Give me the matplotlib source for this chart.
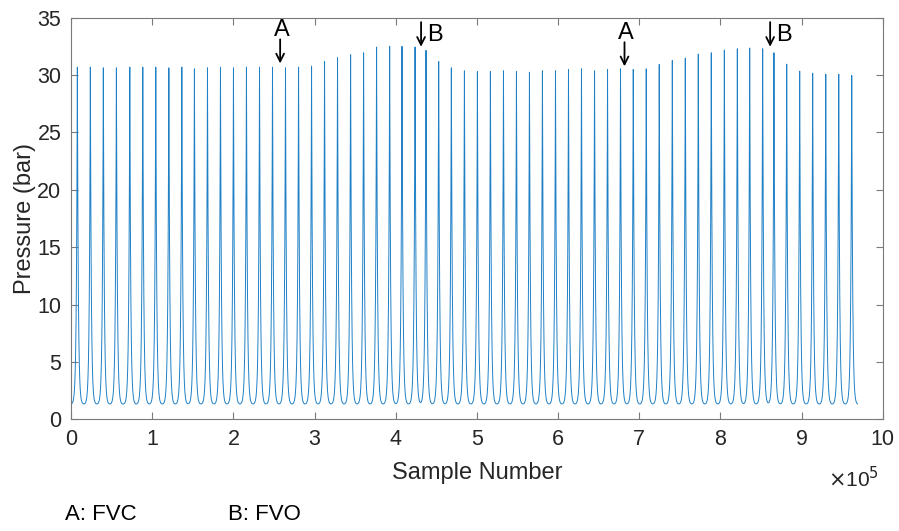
import numpy as np
import matplotlib
matplotlib.use("Agg")
import matplotlib.pyplot as plt
from matplotlib.ticker import FuncFormatter, MultipleLocator

plt.rcParams["font.family"] = ["Liberation Sans", "DejaVu Sans"]

# sample index of each compression peak
peak_samples = [
    7800, 23800, 39800, 55900, 72400, 88400, 104400, 120500, 136500, 152000,
    168100, 184100, 200100, 216100, 232200, 248200, 264200, 280300, 296300, 312300,
    328300, 344400, 360400, 376400, 392500, 407700, 423800, 437300, 452900, 468500,
    484600, 500600, 516600, 532700, 548700, 564700, 580700, 596800, 612800, 628800,
    644900, 660900, 676900, 692600, 708600, 724600, 740700, 756700, 772700, 788700,
    804800, 820800, 836000, 852000, 865900, 881600, 897600, 913600, 929700, 945700,
    961700,
]
# peak pressure of each cycle (bar)
peak_pressure = [
    30.68, 30.68, 30.62, 30.62, 30.68, 30.68, 30.68, 30.62, 30.68, 30.53,
    30.62, 30.68, 30.62, 30.68, 30.68, 30.68, 30.62, 30.68, 30.77, 31.17,
    31.50, 31.76, 31.93, 32.43, 32.49, 32.49, 32.43, 32.14, 31.17, 30.62,
    30.36, 30.30, 30.30, 30.36, 30.30, 30.24, 30.36, 30.36, 30.48, 30.53,
    30.36, 30.48, 30.53, 30.48, 30.53, 30.91, 31.26, 31.47, 31.82, 31.93,
    32.17, 32.28, 32.34, 32.28, 31.93, 30.94, 30.33, 30.15, 30.07, 30.07,
    29.95,
]
base_pressure = 1.3       # bar, level between strokes
pulse_width = 1150        # samples, decay length of each spike
n_samples = 969000

# sample positions of the marked events
fvc_marks = [259600, 683800]
fvo_marks = [431200, 861200]

t = np.arange(0, n_samples, 25, dtype=float)
p = np.full_like(t, base_pressure)
for s, h in zip(peak_samples, peak_pressure):
    p += (h - base_pressure) * np.exp(-np.abs(t - s) / pulse_width)

fig = plt.figure(figsize=(8.99, 5.31), dpi=100)
ax = fig.add_axes([0.079, 0.210, 0.903, 0.757])
ax.plot(t, p, color="#1f80c6", lw=0.7)

ax.set_xlim(0, 1e6)
ax.set_ylim(0, 35)
ax.xaxis.set_major_locator(MultipleLocator(1e5))
ax.xaxis.set_major_formatter(FuncFormatter(lambda v, pos: f"{v / 1e5:g}"))
ax.yaxis.set_major_locator(MultipleLocator(5))

axis_grey = "#7a7a7a"
for sp in ax.spines.values():
    sp.set_color(axis_grey)
    sp.set_linewidth(0.8)
ax.tick_params(direction="in", length=5, width=0.8, color=axis_grey,
               labelcolor="#262626", labelsize=15.5, top=True, right=True, pad=7)

ax.set_xlabel("Sample Number", fontsize=17, color="#262626")
ax.set_ylabel("Pressure (bar)", fontsize=17, color="#262626")
ax.xaxis.set_label_coords(0.5, -0.105)
ax.yaxis.set_label_coords(-0.043, 0.5)

ax.text(0.995, -0.147, r"$\times$10$^5$", transform=ax.transAxes, ha="right",
        va="center", fontsize=15, color="#262626")

arrow_kw = dict(arrowstyle="->", lw=1.3, color="black", mutation_scale=14,
                shrinkA=0, shrinkB=0)
for i, x in enumerate(fvc_marks):
    dy = 0.0 if i == 0 else -0.25
    ax.text(x, 33.9 + dy, "A", ha="center", va="center", fontsize=17)
    ax.annotate("", xy=(x - 2000, 31.0 + dy), xytext=(x - 2000, 33.1 + dy),
                arrowprops=arrow_kw)
for x in fvo_marks:
    ax.annotate("", xy=(x, 32.45), xytext=(x, 34.6), arrowprops=arrow_kw)
    ax.text(x + 7000, 33.5, "B", ha="left", va="center", fontsize=17)

fig.text(65 / 899, 1 - 515 / 531, "A: FVC", ha="left", va="center", fontsize=16)
fig.text(228 / 899, 1 - 515 / 531, "B: FVO", ha="left", va="center", fontsize=16)

fig.savefig("out.png", dpi=100)
